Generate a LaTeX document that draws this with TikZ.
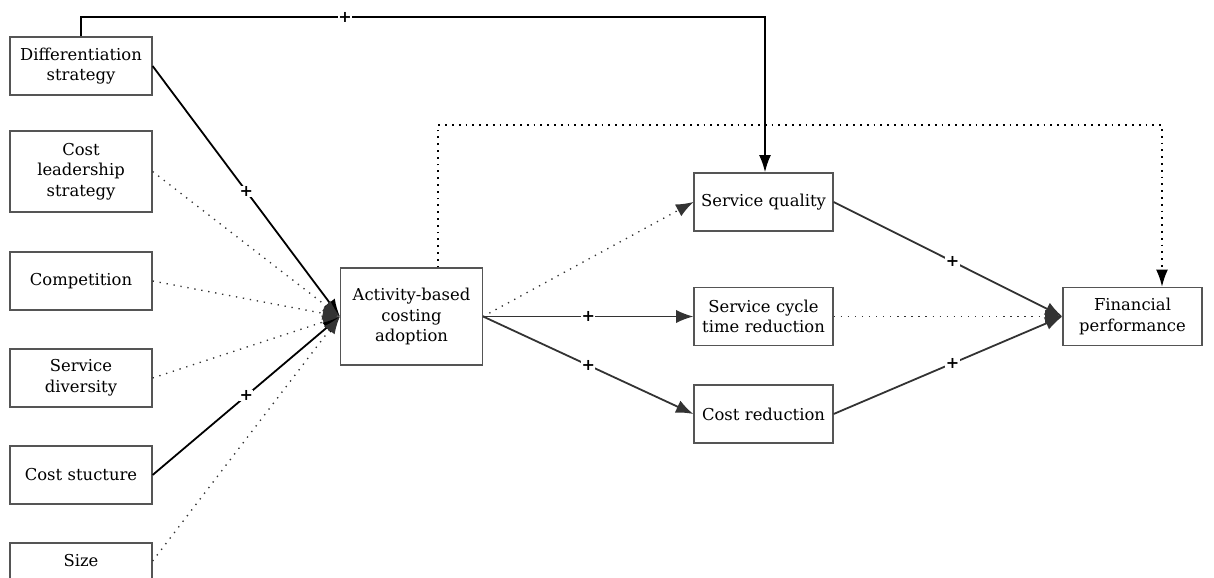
\documentclass[tikz,border=0pt]{standalone}
\usepackage{fontspec}
\setmainfont{DejaVu Serif}
\usetikzlibrary{arrows.meta}
\definecolor{boxline}{HTML}{555555}
\definecolor{darkline}{HTML}{333333}
\begin{document}
\begin{tikzpicture}[x=0.75pt,y=-0.75pt,
  every node/.style={font=\fontsize{12.3}{15.5}\selectfont},
  box/.style={draw=boxline,line width=0.9pt,align=center,inner sep=1pt,
    minimum width=106.5pt,minimum height=43.5pt,text width=104pt},
  tallbox/.style={box,minimum height=60.75pt},
  abcbox/.style={box,minimum height=72.75pt},
  rbox/.style={box,minimum width=104.25pt,text width=102pt},
  solidarr/.style={line width=1.35pt,-{Latex[length=13pt,width=10pt]}},
  dotarr/.style={line width=1pt,dash pattern=on 1pt off 4.3pt,
    -{Latex[length=13pt,width=10pt]}},
  plus/.style={fill=white,inner sep=0.4pt,font=\fontsize{12}{12}\selectfont\bfseries}
]
\useasboundingbox (0,0) rectangle (1214,578);

% left column: drivers of adoption
\node[box] (diff) at (81,66)      {Differentiation\\strategy};
\node[tallbox] (lead) at (81,171.5) {Cost\\leadership\\strategy};
\node[box] (comp) at (81,281)     {Competition};
\node[box] (div)  at (81,378)     {Service\\diversity};
\node[box] (cst)  at (81,475)     {Cost stucture};
\node[box,minimum height=27pt] (size) at (81,561) {Size};

% central node
\node[abcbox] (abc) at (411.5,316.5) {Activity-based\\costing\\adoption};

% outcomes
\node[rbox] (sq)  at (763.5,202)    {Service quality};
\node[rbox] (sct) at (763.5,316.5)  {Service cycle\\time reduction};
\node[rbox] (cr)  at (763.5,414)    {Cost reduction};
\node[rbox] (fp)  at (1132.5,316.5) {Financial\\performance};

% routing points for the bent connectors
\coordinate (t1) at (81,17);
\coordinate (t2) at (765,17);
\coordinate (d1) at (438,125);
\coordinate (d2) at (1162,125);

% differentiation -> service quality, over the top
\draw[line width=1.5pt,-{Latex[length=13pt,width=9pt]}]
  (diff.north) -- (t1) -- node[plus,pos=0.386]{+} (t2) -- (sq.north -| t2);

% adoption -> financial performance, dotted over the top
\draw[line width=1.5pt,dash pattern=on 1.3pt off 3.8pt,-{Latex[length=13pt,width=9pt]}]
  (abc.north -| d1) -- (d1) -- (d2) -- (fp.north -| d2);

% drivers -> adoption
\draw[solidarr] (diff.east) -- node[plus]{+} (abc.west);
\draw[dotarr,darkline] (lead.east) -- (abc.west);
\draw[dotarr,darkline] (comp.east) -- (abc.west);
\draw[dotarr,darkline] (div.east) -- (abc.west);
\draw[solidarr] (cst.east) -- node[plus]{+} (abc.west);
\draw[dotarr,darkline] (size.east) -- (abc.west);

% adoption -> outcomes
\draw[dotarr,darkline] (abc.east) -- (sq.west);
\draw[solidarr,darkline] (abc.east) -- node[plus,text=black]{+} (sct.west);
\draw[solidarr,darkline] (abc.east) -- node[plus,text=black]{+} (cr.west);

% outcomes -> financial performance
\draw[solidarr,darkline] (sq.east) -- node[plus,text=black,pos=0.52]{+} (fp.west);
\draw[dotarr,darkline] (sct.east) -- (fp.west);
\draw[solidarr,darkline] (cr.east) -- node[plus,text=black,pos=0.52]{+} (fp.west);
\end{tikzpicture}
\end{document}
